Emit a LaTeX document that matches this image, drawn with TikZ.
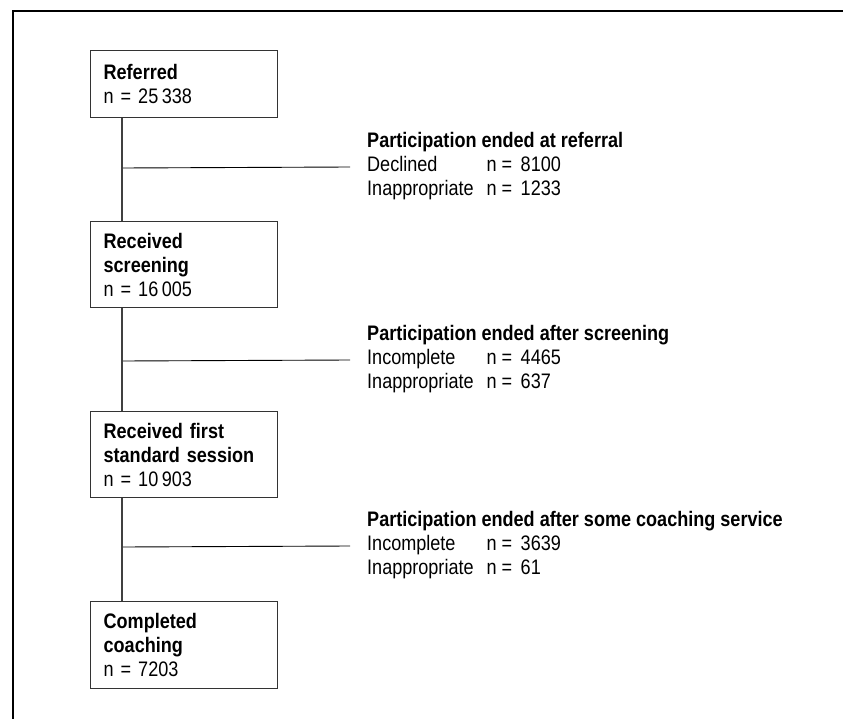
\documentclass[tikz,border=0pt]{standalone}
\usepackage{fontspec}
\setmainfont{Liberation Sans}[FakeStretch=0.86]
\newcommand\stagefont{\fontsize{21}{24}\selectfont\spaceskip=\fontdimen2\font\relax}

\begin{document}
\begin{tikzpicture}[x=1pt, y=-1pt,
  stage/.style={draw=black!80, line width=1.3pt, anchor=north west,
    text width=161pt, inner xsep=13pt, inner ysep=0pt, align=left,
    font=\stagefont},
  ended/.style={anchor=west, inner sep=0pt, font=\fontsize{21}{24}\selectfont},
  trunk/.style={draw=black!75, line width=1.3pt},
  branch/.style={draw=black, line width=0.9pt}]

\useasboundingbox (0,0) rectangle (843,719);

% frame, top and left only
\draw[line width=2pt] (13,719) -- (13,11) -- (843,11);

\node[stage, minimum height=67pt] (referred) at (90,50)
  {\textbf{Referred}\\n = 25\,338};
\node[stage, minimum height=86pt] (screening) at (90,221)
  {\textbf{Received}\\\textbf{screening}\\n = 16\,005};
\node[stage, minimum height=86pt] (firstsession) at (90,411)
  {\textbf{Received first}\\\textbf{standard session}\\n = 10\,903};
\node[stage, minimum height=87pt] (completed) at (90,601)
  {\textbf{Completed}\\\textbf{coaching}\\n = 7203};

\draw[trunk] ([xshift=32pt]referred.south west) -- ([xshift=32pt]screening.north west);
\draw[trunk] ([xshift=32pt]screening.south west) -- ([xshift=32pt]firstsession.north west);
\draw[trunk] ([xshift=32pt]firstsession.south west) -- ([xshift=32pt]completed.north west);

\node[ended] (endreferral) at (367,167)
  {\begin{tabular}{@{}l@{\hspace{13pt}}l@{}}
   \multicolumn{2}{@{}l@{}}{\textbf{Participation ended at referral}}\\
   Declined & n = \,8100\\
   Inappropriate & n = \,1233
   \end{tabular}};
\node[ended] (endscreening) at (367,360)
  {\begin{tabular}{@{}l@{\hspace{13pt}}l@{}}
   \multicolumn{2}{@{}l@{}}{\textbf{Participation ended after screening}}\\
   Incomplete & n = \,4465\\
   Inappropriate & n = \,637
   \end{tabular}};
\node[ended] (endcoaching) at (367,546)
  {\begin{tabular}{@{}l@{\hspace{13pt}}l@{}}
   \multicolumn{2}{@{}l@{}}{\textbf{Participation ended after some coaching service}}\\
   Incomplete & n = \,3639\\
   Inappropriate & n = \,61
   \end{tabular}};

\coordinate (j1) at (123,168);
\coordinate (j2) at (123,361);
\coordinate (j3) at (123,547);

\draw[branch] (j1) -- ([xshift=-17pt]endreferral.west);
\draw[branch] (j2) -- ([xshift=-17pt]endscreening.west);
\draw[branch] (j3) -- ([xshift=-17pt]endcoaching.west);

\end{tikzpicture}
\end{document}
